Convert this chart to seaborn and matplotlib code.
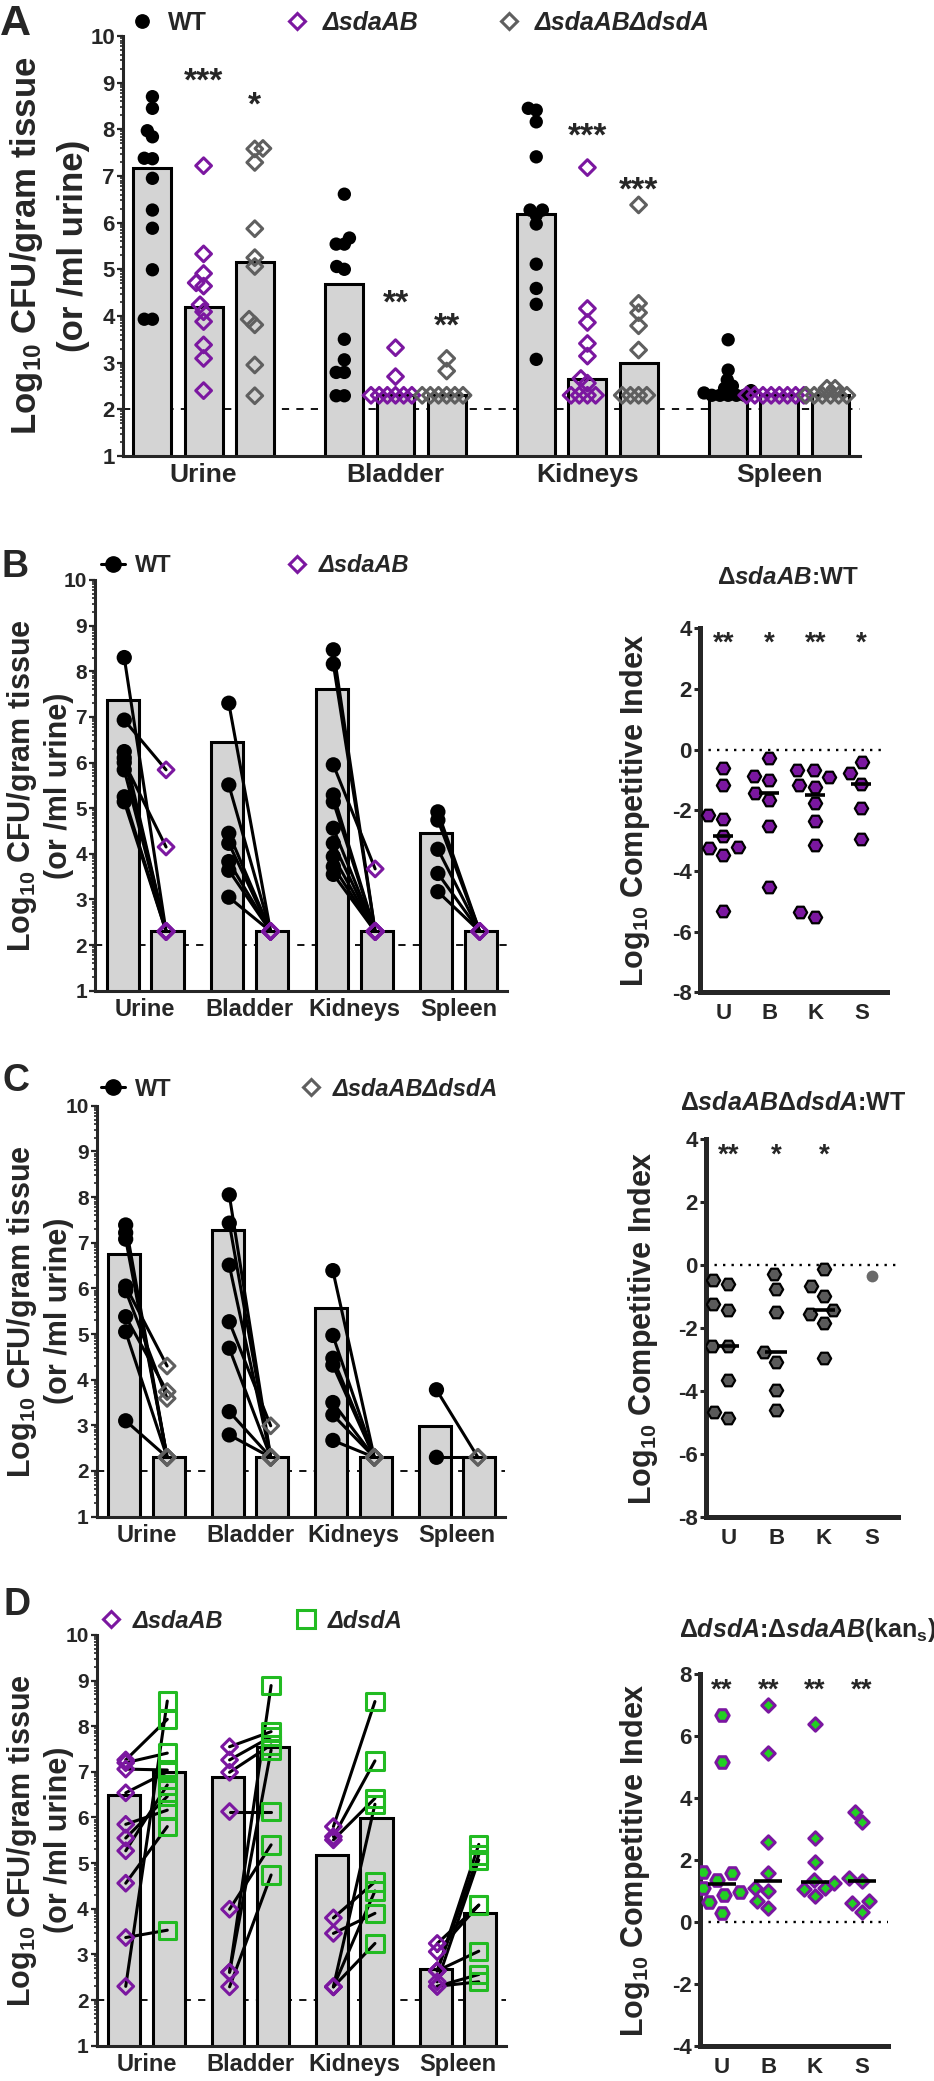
import numpy as np
import pandas as pd
import seaborn as sns
import matplotlib.pyplot as plt
from matplotlib.lines import Line2D
from matplotlib.ticker import FixedLocator

# 1) Data
organs = ["Urine", "Bladder", "Kidneys", "Spleen"]
ci_cats = ["U", "B", "K", "S"]

# Panel A: one list per organ (Urine, Bladder, Kidneys, Spleen)
a_strains = ["WT", "ΔsdaAB", "ΔsdaABΔdsdA"]
a_wt = [[8.70, 8.45, 7.97, 7.84, 7.38, 7.37, 6.95, 6.27, 5.88, 4.99, 3.93, 3.93],
        [6.61, 5.67, 5.54, 5.54, 5.06, 5.00, 3.50, 3.06, 2.79, 2.79, 2.29, 2.29],
        [8.45, 8.41, 8.16, 7.41, 6.27, 6.27, 6.16, 5.97, 5.11, 4.59, 4.25, 3.07],
        [3.49, 2.84, 2.63, 2.50, 2.45, 2.40, 2.35, 2.30, 2.30, 2.30, 2.30, 2.30]]
a_sda = [[7.22, 5.33, 4.91, 4.71, 4.64, 4.24, 4.09, 3.88, 3.38, 3.09, 2.40],
         [3.32, 2.70, 2.30, 2.30, 2.30, 2.30, 2.30, 2.30],
         [7.18, 4.16, 3.86, 3.41, 3.14, 2.66, 2.56, 2.30, 2.30, 2.30, 2.30],
         [2.30, 2.30, 2.30, 2.30, 2.30, 2.30, 2.30, 2.30]]
a_dd = [[7.59, 7.58, 7.29, 5.87, 5.25, 5.06, 3.93, 3.81, 2.95, 2.29],
        [3.09, 2.82, 2.30, 2.30, 2.30, 2.30, 2.30, 2.30],
        [6.38, 4.27, 4.07, 3.79, 3.27, 2.30, 2.30, 2.30, 2.30],
        [2.45, 2.45, 2.30, 2.30, 2.30, 2.30, 2.30, 2.30]]
a_bar_wt = [7.18, 4.69, 6.19, 2.30]
a_bar_sda = [4.20, 2.30, 2.65, 2.30]
a_bar_dd = [5.15, 2.30, 2.99, 2.30]
a_stars = ["***", "*", "**", "**", "***", "***"]
a_star_organ = [0, 0, 1, 1, 2, 2]
a_star_strain = [1, 2, 1, 2, 1, 2]
a_star_y = [9.24, 8.74, 4.49, 3.99, 8.06, 6.91]

# Panel B: paired WT / ΔsdaAB
b_strains = ["WT", "ΔsdaAB"]
b_wt = [[8.30, 6.93, 6.24, 6.10, 6.00, 5.84, 5.25, 5.14],
        [7.30, 5.51, 4.45, 4.23, 3.83, 3.64, 3.05],
        [8.47, 8.16, 5.95, 5.29, 5.14, 4.56, 4.23, 3.94, 3.72, 3.55],
        [4.92, 4.74, 4.10, 3.57, 3.17]]
b_mut = [[2.30, 5.84, 2.30, 2.30, 4.15, 2.30, 2.30, 2.30],
         [2.30, 2.30, 2.30, 2.30, 2.30, 2.30, 2.30],
         [2.30, 2.30, 3.67, 2.30, 2.30, 2.30, 2.30, 2.30, 2.30, 2.30],
         [2.30, 2.30, 2.30, 2.30, 2.30]]
b_bar_wt = [7.36, 6.44, 7.61, 4.45]
b_bar_mut = [2.30, 2.30, 2.30, 2.30]
b_ci = [[-0.62, -1.16, -2.15, -2.30, -2.84, -3.22, -3.25, -3.47, -5.31],
        [-0.29, -0.87, -1.00, -1.42, -1.66, -2.52, -4.52],
        [-0.67, -0.67, -0.92, -1.17, -1.22, -1.77, -2.37, -3.16, -5.36, -5.51],
        [-0.40, -0.76, -1.14, -1.91, -2.96]]
b_ci_stars = ["**", "*", "**", "*"]

# Panel C: paired WT / ΔsdaABΔdsdA
c_strains = ["WT", "ΔsdaABΔdsdA"]
c_wt = [[7.39, 7.22, 7.08, 6.05, 5.95, 5.38, 5.05, 3.10],
        [8.05, 7.43, 6.51, 5.27, 4.69, 3.30, 2.79],
        [6.39, 4.97, 4.47, 4.32, 3.50, 3.23, 2.67],
        [3.78, 2.30]]
c_mut = [[2.30, 2.30, 2.30, 4.30, 3.59, 3.74, 2.30, 2.30],
         [2.30, 2.30, 2.30, 2.99, 2.30, 2.30, 2.30],
         [2.30, 2.30, 2.30, 2.30, 2.30, 2.30, 2.30],
         [2.30, 2.30]]
c_bar_wt = [6.76, 7.28, 5.57, 2.99]
c_bar_mut = [2.30, 2.30, 2.30, 2.30]
c_ci = [[-0.47, -0.61, -1.24, -1.43, -2.57, -2.57, -3.65, -4.66, -4.87],
        [-0.28, -0.77, -1.50, -2.77, -3.09, -3.97, -4.61],
        [-0.12, -0.66, -0.98, -1.43, -1.55, -1.83, -2.96],
        [-0.35]]
c_ci_stars = ["**", "*", "*", ""]

# Panel D: paired ΔsdaAB / ΔdsdA
d_strains = ["ΔsdaAB", "ΔdsdA"]
d_sda = [[7.26, 7.20, 7.06, 6.54, 5.85, 5.55, 5.27, 4.56, 3.37, 2.30],
         [7.55, 7.26, 6.99, 6.13, 3.99, 2.61, 2.61, 2.29],
         [5.80, 5.58, 5.51, 3.80, 3.46, 2.29, 2.29, 2.29],
         [3.24, 3.06, 2.64, 2.64, 2.40, 2.64, 2.30, 2.30]]
d_dsd = [[8.15, 7.41, 7.04, 7.00, 6.16, 6.46, 6.71, 5.80, 3.53, 8.55],
         [7.88, 7.77, 7.59, 6.13, 5.40, 8.89, 7.48, 4.74],
         [8.54, 7.24, 6.42, 4.59, 3.90, 6.29, 4.39, 3.24],
         [4.08, 4.08, 5.41, 5.18, 5.07, 3.07, 2.56, 2.40]]
d_bar_sda = [6.49, 6.88, 5.18, 2.69]
d_bar_dsd = [7.00, 7.55, 5.98, 3.90]
d_ci = [[6.69, 5.16, 1.60, 1.57, 1.35, 1.08, 0.95, 0.87, 0.63, 0.28],
        [7.01, 5.45, 2.57, 1.57, 1.08, 1.00, 0.67, 0.46],
        [6.38, 2.70, 1.95, 1.35, 1.25, 1.11, 1.05, 0.85],
        [3.56, 3.22, 1.43, 1.32, 0.67, 0.60, 0.33]]
d_ci_stars = ["**", "**", "**", "**"]

# 2) Style
sns.set_theme(style="ticks")
plt.rcParams["font.family"] = ["Liberation Sans", "DejaVu Sans"]
plt.rcParams["font.weight"] = "bold"
plt.rcParams["axes.unicode_minus"] = False
plt.rcParams["mathtext.fontset"] = "custom"
plt.rcParams["mathtext.rm"] = "Liberation Sans:bold"
plt.rcParams["mathtext.it"] = "Liberation Sans:italic:bold"
plt.rcParams["mathtext.bf"] = "Liberation Sans:bold"

PURPLE = "#7b17a0"
GRAY = "#5f5f5f"
GREEN = "#22bb22"
GREEN_FILL = "#22d022"
BAR = "#d4d4d4"
W, H = 934, 2081

fig = plt.figure(figsize=(W / 100, H / 100), dpi=100)


def long_df(groups, cats, strain=None):
    rows = []
    for c, vals in zip(cats, groups):
        for v in vals:
            rows.append({"cat": c, "strain": strain, "val": v})
    return pd.DataFrame(rows)


def bar_df(strains, heights):
    parts = [pd.DataFrame({"cat": organs, "strain": s, "val": h}) for s, h in zip(strains, heights)]
    return pd.concat(parts, ignore_index=True)


def open_markers(ax, n0, col, lw):
    for c in ax.collections[n0:]:
        c.set_facecolor("none")
        c.set_edgecolor(col)
        c.set_linewidth(lw)


def style_left(ax, labelx, xlim, xfs, yfs, lsp, tfs):
    minor = [k + np.log10(m) for k in range(1, 10) for m in range(2, 10)]
    ax.set_ylim(1, 10)
    ax.set_yticks(range(1, 11))
    ax.yaxis.set_minor_locator(FixedLocator(minor))
    ax.set_xlim(*xlim)
    ax.set_xlabel("")
    ax.set_ylabel("Log$_{10}$ CFU/gram tissue\n(or /ml urine)", fontsize=yfs,
                  fontweight="bold", linespacing=lsp)
    ax.yaxis.set_label_coords(labelx, 0.5)
    sns.despine(ax=ax)
    for sp in ["left", "bottom"]:
        ax.spines[sp].set_linewidth(2.2)
    ax.tick_params(axis="y", which="major", labelsize=tfs, width=1.6, length=4.3, pad=1.5)
    ax.tick_params(axis="y", which="minor", width=1.2, length=2.2)
    ax.tick_params(axis="x", length=0, labelsize=xfs, pad=5)
    ax.set_facecolor("white")


def add_legend(handles, labels, x0, yc, fs, pad, colsp, italic):
    leg = fig.legend(handles, labels, loc="center left", bbox_to_anchor=(x0 / W, 1 - yc / H),
                     ncol=len(handles), frameon=False, fontsize=fs, handlelength=1.0,
                     handletextpad=pad, columnspacing=colsp, borderpad=0, borderaxespad=0)
    for t, it in zip(leg.get_texts(), italic):
        t.set_fontweight("bold")
        if it:
            t.set_fontstyle("italic")


# 3) Panel A: bars + swarm (swarm laid out with small markers so ties overlap, as in GraphPad)
axA = fig.add_axes([0.1317, 0.7809, 0.789, 0.2018])
axA.axhline(2, color="black", ls=(0, (4, 4)), lw=1.3, zorder=0)
sns.barplot(data=bar_df(a_strains, [a_bar_wt, a_bar_sda, a_bar_dd]), x="cat", y="val",
            hue="strain", order=organs, hue_order=a_strains,
            palette={s: BAR for s in a_strains}, edgecolor="black", linewidth=2.2,
            width=0.8, gap=0.26, errorbar=None, legend=False, ax=axA, zorder=1)
a_xlim = (-0.42, 3.42)
a_styles = [("o", "black", True, 9.6), ("D", PURPLE, False, 8.0), ("D", GRAY, False, 8.0)]
for strain, vals, (mk, col, filled, ms) in zip(a_strains, [a_wt, a_sda, a_dd], a_styles):
    n0 = len(axA.collections)
    axA.set_xlim(*a_xlim)
    axA.set_ylim(1, 10)
    sns.swarmplot(data=long_df(vals, organs, strain), x="cat", y="val", hue="strain",
                  order=organs, hue_order=a_strains, dodge=True,
                  palette={s: col for s in a_strains}, marker=mk, size=5.6,
                  linewidth=0, legend=False, ax=axA, zorder=3, warn_thresh=1)
    axA.set_xlim(*a_xlim)
    axA.set_ylim(1, 10)
    fig.canvas.draw()
    for c in axA.collections[n0:]:
        c.__dict__.pop("draw", None)
        c.set_sizes([ms ** 2])
    if not filled:
        open_markers(axA, n0, col, 2.2)
style_left(axA, -0.0448, a_xlim, 19, 25, 1.45, 16)
slot = 0.8 / 3
for o, s_i, y, s in zip(a_star_organ, a_star_strain, a_star_y, a_stars):
    axA.annotate(s, (o + (s_i - 1) * slot, y), xytext=(0, -0.58 * 24), textcoords="offset points",
                 ha="center", va="baseline", fontsize=24, fontweight="bold")
add_legend([Line2D([], [], marker="o", ls="none", color="black", ms=9.6),
            Line2D([], [], marker="D", ls="none", mfc="none", mec=PURPLE, mew=2.2, ms=8.0),
            Line2D([], [], marker="D", ls="none", mfc="none", mec=GRAY, mew=2.2, ms=8.0)],
           a_strains, 129.5, 23, 18, 0.54, 3.1, [False, True, True])
fig.text(0.0, 1 - 35 / H, "A", fontsize=31, fontweight="bold", va="baseline", ha="left")


# 4) Paired panels (B, C, D left)
def paired(rect, strains, left, right, bar_left, bar_right, styles, labelx, xlim):
    ax = fig.add_axes(rect)
    ax.axhline(2, color="black", ls=(0, (4, 4)), lw=1.3, zorder=0)
    sns.barplot(data=bar_df(strains, [bar_left, bar_right]), x="cat", y="val", hue="strain",
                order=organs, hue_order=strains, palette={s: BAR for s in strains},
                edgecolor="black", linewidth=2.2, width=0.86, gap=0.28, errorbar=None,
                legend=False, ax=ax, zorder=1)
    off = 0.2
    for i, (lv, rv) in enumerate(zip(left, right)):
        for a, b in zip(lv, rv):
            ax.plot([i - off, i + off], [a, b], color="black", lw=2.2, zorder=2)
    for strain, vals, (mk, col, filled, ms) in zip(strains, [left, right], styles):
        n0 = len(ax.collections)
        sns.stripplot(data=long_df(vals, organs, strain), x="cat", y="val", hue="strain",
                      order=organs, hue_order=strains, dodge=True, jitter=False,
                      palette={s: col for s in strains}, marker=mk, size=ms,
                      linewidth=0 if filled else 2.2, legend=False, ax=ax, zorder=3)
        if not filled:
            open_markers(ax, n0, col, 2.2)
    style_left(ax, labelx, xlim, 17, 22, 1.2, 15)
    return ax


def ci_panel(rect, groups, parts, ylim, yticks, stars, star_y, med_w, labelx, xlim, skip_med=()):
    ax = fig.add_axes(rect)
    ax.axhline(0, color="black", ls=(0, (1, 2.6)), lw=1.7, zorder=0)
    df = long_df(groups, ci_cats)
    for cats, mk, face, edge, ms, lw in parts:
        sns.swarmplot(data=df[df["cat"].isin(cats)], x="cat", y="val", order=ci_cats,
                      color=face, edgecolor=edge, linewidth=lw, marker=mk, size=ms,
                      ax=ax, zorder=3)
    med = df[~df["cat"].isin(skip_med)]
    sns.pointplot(data=med, x="cat", y="val", order=ci_cats, estimator="median",
                  errorbar=None, color="black", marker="_", markersize=med_w,
                  markeredgewidth=2.6, linestyle="none", ax=ax, zorder=4)
    for i, s in enumerate(stars):
        if s:
            ax.annotate(s, (i, star_y), xytext=(0, -0.58 * 20), textcoords="offset points",
                        ha="center", va="baseline", fontsize=20, fontweight="bold")
    ax.set_ylim(*ylim)
    ax.set_yticks(yticks)
    ax.set_xlim(*xlim)
    ax.set_xlabel("")
    ax.set_ylabel("Log$_{10}$ Competitive Index", fontsize=22, fontweight="bold")
    ax.yaxis.set_label_coords(labelx, 0.5)
    sns.despine(ax=ax)
    for sp in ["left", "bottom"]:
        ax.spines[sp].set_linewidth(3.6)
    ax.tick_params(axis="y", labelsize=16, width=2.2, length=4, pad=2)
    ax.tick_params(axis="x", length=0, labelsize=16, pad=8)
    ax.set_facecolor("white")
    return ax


# Panel B
paired([0.1017, 0.5239, 0.441, 0.1974], b_strains, b_wt, b_mut, b_bar_wt, b_bar_mut,
       [("o", "black", True, 11), ("D", PURPLE, False, 8.0)], -0.051, (-0.48, 3.46))
add_legend([Line2D([], [], marker="o", color="black", lw=2.2, ms=11),
            Line2D([], [], marker="D", ls="none", mfc="none", mec=PURPLE, mew=2.2, ms=8.0)],
           b_strains, 101, 566, 17, 0.43, 4.8, [False, True])
fig.text(2 / W, 1 - 577 / H, "B", fontsize=27, fontweight="bold", va="baseline", ha="left")
ci_panel([0.7495, 0.5232, 0.1999, 0.1749], b_ci,
         [(ci_cats, "H", PURPLE, "black", 9.6, 1.6)], (-8, 4), range(-8, 5, 2),
         b_ci_stars, 3.78, 15, -0.259, (-0.51, 3.55))
fig.text(788 / W, 1 - 577 / H, r"$\Delta\mathit{sdaAB}$:WT", fontsize=17.5,
         fontweight="bold", ha="center", va="center")

# Panel C
paired([0.1035, 0.2712, 0.437, 0.1974], c_strains, c_wt, c_mut, c_bar_wt, c_bar_mut,
       [("o", "black", True, 11), ("D", GRAY, False, 8.0)], -0.0556, (-0.48, 3.46))
add_legend([Line2D([], [], marker="o", color="black", lw=2.2, ms=11),
            Line2D([], [], marker="D", ls="none", mfc="none", mec=GRAY, mew=2.2, ms=8.0)],
           c_strains, 101, 1089, 17, 0.43, 5.4, [False, True])
fig.text(3 / W, 1 - 1091 / H, "C", fontsize=27, fontweight="bold", va="baseline", ha="left")
ci_panel([0.7559, 0.2712, 0.2059, 0.1814], c_ci,
         [(["U", "B", "K"], "H", "#5a5a5a", "black", 9.6, 1.6),
          (["S"], "o", "#6a6a6a", "#6a6a6a", 8.5, 0)],
         (-8, 4), range(-8, 5, 2), c_ci_stars, 3.77, 16, -0.239, (-0.47, 3.56), skip_med=("S",))
fig.text(793 / W, 1 - 1103 / H, r"$\Delta\mathit{sdaAB}\Delta\mathit{dsdA}$:WT", fontsize=18,
         fontweight="bold", ha="center", va="center")

# Panel D
paired([0.1035, 0.01697, 0.438, 0.1974], d_strains, d_sda, d_dsd, d_bar_sda, d_bar_dsd,
       [("D", PURPLE, False, 8.0), ("s", GREEN, False, 12.5)], -0.0556, (-0.48, 3.46))
add_legend([Line2D([], [], marker="D", ls="none", mfc="none", mec=PURPLE, mew=2.2, ms=8.0),
            Line2D([], [], marker="s", ls="none", mfc="none", mec=GREEN, mew=2.2, ms=12.5)],
           d_strains, 99, 1621, 17, 0.43, 3.0, [True, True])
fig.text(3 / W, 1 - 1615 / H, "D", fontsize=27, fontweight="bold", va="baseline", ha="left")
ci_panel([0.7495, 0.01697, 0.2016, 0.1785], d_ci,
         [(["U"], "H", GREEN_FILL, PURPLE, 9.6, 2.2),
          (["B", "K", "S"], "D", GREEN_FILL, PURPLE, 6.8, 2.2)],
         (-4, 8), range(-4, 9, 2), d_ci_stars, 7.76, 20, -0.256, (-0.46, 3.57))
fig.text(808 / W, 1 - 1630 / H, r"$\Delta\mathit{dsdA}$:$\Delta\mathit{sdaAB}$(kan$_{\mathrm{s}}$)",
         fontsize=18, fontweight="bold", ha="center", va="center")

fig.savefig("out.png", dpi=100)
